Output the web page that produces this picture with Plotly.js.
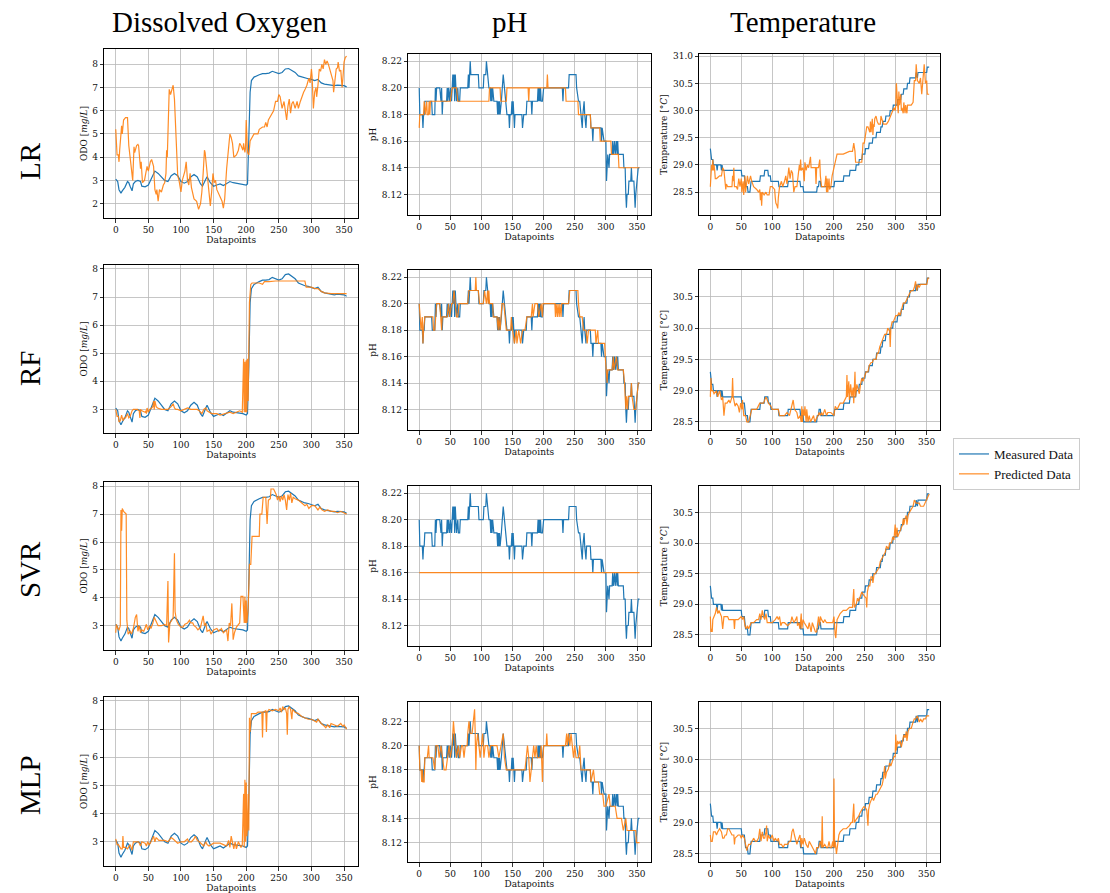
<!DOCTYPE html>
<html><head><meta charset="utf-8">
<script src="https://cdn.plot.ly/plotly-3.0.1.min.js"></script>
<style>html,body{margin:0;padding:0;background:#fff}#chart{width:1110px;height:893px}</style>
</head><body><div id="chart"></div>
<script>
// ---------- DATA (x = datapoint index, y = value) ----------
const models = ["LR", "RF", "SVR", "MLP"];
const variables = ["Dissolved Oxygen", "pH", "Temperature"];
const seriesNames = ["Measured Data", "Predicted Data"];
const xTicks = [0, 50, 100, 150, 200, 250, 300, 350];

const doMeasured = [[0,3.05],[3,2.95],[5,2.6],[8,2.45],[10,2.55],[14,2.7],[18,2.95],[20,2.9],[22,2.75],[25,2.55],[27,2.85],[30,2.95],[34,3.0],[38,2.95],[40,2.75],[45,2.72],[50,2.8],[55,3.1],[60,3.4],[65,3.3],[70,3.15],[75,3.0],[80,2.95],[85,3.2],[90,3.3],[95,3.2],[100,2.95],[105,2.88],[110,2.95],[115,3.15],[120,3.25],[125,3.15],[130,2.85],[133,2.75],[138,3.05],[140,3.15],[145,2.9],[150,2.75],[155,2.8],[160,2.85],[165,2.78],[170,2.85],[175,2.95],[180,2.9],[185,2.88],[195,2.85],[200,2.8],[202,2.85],[204,4.5],[206,6.8],[208,7.3],[212,7.45],[220,7.55],[225,7.6],[230,7.6],[235,7.62],[240,7.7],[245,7.65],[250,7.6],[255,7.65],[260,7.8],[265,7.82],[270,7.75],[275,7.65],[280,7.5],[285,7.45],[290,7.4],[295,7.38],[300,7.35],[305,7.3],[310,7.35],[315,7.2],[320,7.15],[325,7.12],[330,7.1],[335,7.08],[340,7.1],[345,7.1],[350,7.08],[354,7.03]];

const doPredLR = [[0,5.2],[2,4.1],[4,4.1],[5,3.8],[6,4.3],[9,5.35],[10,5.0],[12,5.6],[15,5.7],[18,5.7],[20,4.5],[23,3.6],[25,3.2],[26,3.0],[28,4.45],[29,4.2],[32,4.5],[34,4.55],[35,4.5],[38,3.5],[39,3.8],[41,2.9],[44,3.0],[46,3.3],[48,3.6],[50,3.4],[53,3.8],[55,3.9],[58,3.6],[60,2.6],[62,2.4],[63,2.6],[65,2.1],[67,2.6],[70,2.5],[73,2.8],[75,2.9],[77,3.3],[78,4.3],[79,4.0],[82,6.92],[84,6.7],[87,7.0],[88,7.1],[90,6.5],[92,5.0],[95,3.2],[97,3.0],[100,2.5],[102,3.0],[104,3.2],[106,3.4],[108,3.8],[110,3.0],[112,2.8],[114,3.3],[116,2.7],[118,2.4],[120,2.2],[124,2.1],[127,1.75],[130,2.0],[132,2.5],[134,3.3],[136,4.3],[137,4.2],[139,3.6],[141,2.9],[143,2.3],[145,1.9],[147,2.5],[149,3.3],[151,2.9],[153,3.0],[155,2.6],[158,2.4],[160,2.3],[163,2.1],[165,1.8],[167,2.2],[170,3.5],[173,4.4],[175,5.0],[177,4.85],[179,4.6],[181,4.0],[185,4.1],[188,4.3],[190,4.6],[192,4.5],[195,4.3],[196,4.6],[198,4.2],[199,4.4],[200,5.6],[202,4.2],[204,4.1],[206,4.7],[208,4.8],[212,5.0],[218,5.0],[220,5.2],[225,5.3],[228,5.3],[230,5.5],[232,5.3],[234,5.6],[238,5.8],[242,6.0],[245,6.4],[248,6.4],[250,6.7],[252,6.6],[255,6.1],[258,6.4],[260,6.0],[262,5.6],[264,6.2],[266,6.5],[268,5.9],[270,6.3],[272,6.4],[275,6.1],[278,6.4],[280,6.1],[283,6.4],[285,6.6],[288,6.8],[290,6.9],[293,7.1],[296,7.4],[298,7.2],[300,7.8],[301,7.5],[303,6.1],[305,6.8],[307,7.0],[308,6.6],[310,7.1],[312,7.8],[314,7.7],[316,8.0],[318,7.8],[320,8.2],[322,8.0],[324,8.15],[326,8.0],[328,7.8],[330,7.7],[333,7.3],[334,6.8],[336,7.4],[338,7.8],[340,7.85],[341,8.1],[342,7.9],[343,7.7],[345,7.75],[347,7.0],[348,7.3],[350,8.1],[352,8.3],[354,8.35]];

const doPredRF = [[0,3.0],[2,2.75],[4,2.75],[5,2.55],[7,2.6],[9,2.8],[11,2.6],[13,2.7],[15,2.7],[18,2.85],[20,2.7],[22,2.75],[25,2.95],[27,3.0],[30,3.0],[33,3.0],[36,2.95],[37,2.7],[38,3.0],[40,2.95],[45,2.9],[46,2.95],[47,2.85],[48,3.05],[50,2.9],[52,3.0],[55,3.05],[57,3.1],[58,3.3],[59,3.0],[60,3.3],[62,3.1],[64,3.05],[70,3.0],[80,3.0],[85,3.1],[88,3.2],[90,3.05],[92,3.0],[95,3.0],[100,2.95],[105,3.0],[110,3.05],[115,3.0],[120,3.0],[125,3.0],[128,2.95],[132,2.85],[135,3.0],[138,3.05],[140,2.95],[143,2.9],[147,2.85],[150,2.85],[155,2.85],[160,2.8],[170,2.85],[175,2.9],[180,2.85],[185,2.9],[190,2.95],[194,2.9],[196,4.8],[197,2.9],[198,4.7],[199,2.9],[200,4.75],[201,2.9],[202,4.8],[203,3.3],[204,4.8],[205,6.8],[207,7.45],[209,7.5],[215,7.5],[220,7.5],[225,7.45],[228,7.55],[235,7.55],[245,7.57],[260,7.57],[275,7.57],[290,7.57],[292,7.35],[300,7.35],[305,7.3],[310,7.3],[315,7.2],[320,7.15],[330,7.12],[340,7.12],[350,7.12],[354,7.12]];

const doPredSVR = [[0,2.75],[1,3.05],[3,2.9],[5,2.85],[7,3.0],[8,7.15],[9,6.4],[10,7.2],[12,7.1],[14,7.05],[16,7.0],[17,3.2],[19,2.7],[22,2.8],[24,2.7],[27,2.9],[30,3.3],[32,3.4],[34,2.8],[36,3.0],[38,2.75],[40,2.85],[43,2.8],[47,3.05],[49,2.85],[52,3.0],[54,2.9],[57,3.1],[59,3.3],[62,3.15],[65,3.0],[70,3.0],[75,3.05],[78,3.0],[80,4.6],[81,2.4],[83,3.1],[86,3.2],[88,3.3],[90,5.6],[91,3.5],[93,3.2],[96,3.05],[100,2.95],[103,2.95],[106,3.05],[110,3.1],[113,3.2],[115,3.1],[118,3.1],[120,3.0],[123,2.95],[126,2.85],[128,2.9],[130,2.95],[134,3.35],[136,3.0],[138,3.1],[140,2.8],[144,2.85],[146,2.7],[150,2.85],[155,2.9],[158,2.8],[162,2.9],[165,2.75],[168,2.8],[170,2.85],[172,2.45],[174,3.1],[176,3.0],[178,3.8],[180,2.5],[182,2.75],[185,2.95],[188,3.05],[190,3.1],[192,4.05],[195,4.05],[197,3.1],[198,4.05],[199,3.1],[200,3.9],[201,3.1],[203,3.6],[205,5.2],[207,5.2],[209,6.2],[220,6.2],[221,7.0],[224,7.0],[226,7.6],[230,7.6],[232,6.65],[234,7.5],[237,7.55],[238,7.9],[242,7.9],[244,7.8],[246,7.7],[248,7.5],[250,7.65],[252,7.45],[254,7.65],[256,7.5],[258,7.7],[260,7.5],[262,7.15],[264,7.7],[266,7.5],[268,7.75],[270,7.4],[272,7.6],[275,7.55],[280,7.5],[285,7.4],[290,7.3],[293,7.35],[296,7.2],[300,7.3],[305,7.3],[310,7.15],[313,7.25],[316,7.15],[320,7.1],[325,7.15],[330,7.1],[335,7.1],[340,7.05],[345,7.1],[350,7.05],[354,7.0]];

const doPredMLP = [[0,3.1],[2,2.9],[4,2.9],[6,2.8],[8,2.75],[10,2.75],[11,3.2],[12,2.8],[15,2.8],[18,2.75],[20,2.85],[22,2.9],[25,2.7],[27,3.0],[30,3.0],[35,3.0],[38,2.85],[40,3.0],[45,2.95],[47,2.85],[49,3.0],[51,2.9],[53,2.95],[55,3.05],[58,3.2],[60,3.0],[62,3.15],[64,3.1],[66,3.05],[70,3.05],[75,3.05],[80,3.0],[85,3.15],[88,3.1],[90,3.05],[92,3.0],[95,2.95],[100,3.0],[105,3.0],[110,3.1],[112,3.0],[116,3.0],[120,3.1],[122,3.2],[125,3.05],[128,3.0],[130,2.95],[132,2.9],[135,2.85],[138,3.0],[140,2.9],[143,2.85],[146,2.9],[150,2.95],[155,2.95],[160,2.95],[165,2.9],[170,2.85],[173,3.05],[175,2.8],[177,3.2],[179,2.9],[181,2.75],[183,3.0],[185,2.75],[188,3.0],[190,2.9],[192,2.8],[194,2.9],[196,4.7],[197,2.8],[198,5.2],[199,3.0],[200,5.1],[201,3.2],[202,3.5],[203,4.7],[204,3.4],[205,7.4],[206,6.9],[207,7.2],[208,7.55],[215,7.55],[218,7.6],[224,7.6],[225,6.7],[226,7.6],[230,7.65],[231,6.9],[232,7.6],[235,7.7],[240,7.65],[245,7.7],[250,7.65],[252,7.75],[254,7.6],[256,7.8],[258,7.7],[260,7.75],[262,7.55],[263,6.8],[264,7.7],[266,7.8],[268,7.7],[270,7.35],[271,7.7],[275,7.6],[280,7.55],[285,7.45],[290,7.4],[295,7.35],[300,7.35],[305,7.3],[308,7.25],[310,7.35],[315,7.2],[320,7.1],[322,7.05],[325,7.15],[328,7.05],[330,7.2],[335,7.15],[340,7.1],[345,7.2],[348,7.1],[350,7.15],[354,7.0]];

const phMeasured = [[0,8.20],[1,8.18],[5,8.18],[6,8.17],[7,8.18],[8,8.18],[9,8.19],[20,8.19],[21,8.18],[25,8.18],[26,8.20],[27,8.19],[28,8.20],[33,8.20],[35,8.19],[36,8.20],[37,8.18],[38,8.19],[44,8.19],[45,8.20],[46,8.19],[47,8.20],[49,8.19],[50,8.20],[52,8.19],[54,8.21],[55,8.20],[56,8.21],[57,8.19],[58,8.21],[59,8.20],[60,8.19],[62,8.20],[63,8.19],[65,8.19],[66,8.20],[78,8.20],[79,8.21],[80,8.20],[81,8.21],[82,8.22],[83,8.21],[95,8.21],[96,8.20],[103,8.20],[104,8.21],[107,8.21],[108,8.22],[110,8.21],[112,8.20],[114,8.20],[115,8.19],[116,8.20],[117,8.19],[118,8.20],[120,8.19],[125,8.19],[126,8.18],[127,8.19],[128,8.18],[129,8.19],[130,8.18],[132,8.19],[133,8.20],[135,8.21],[137,8.20],[139,8.19],[141,8.18],[144,8.18],[145,8.17],[146,8.18],[148,8.18],[149,8.19],[150,8.18],[151,8.19],[152,8.18],[153,8.17],[154,8.18],[165,8.18],[166,8.17],[168,8.18],[172,8.18],[173,8.19],[180,8.19],[181,8.18],[182,8.19],[190,8.19],[191,8.20],[192,8.19],[193,8.20],[194,8.19],[195,8.20],[196,8.19],[198,8.19],[200,8.20],[230,8.20],[231,8.19],[232,8.20],[240,8.20],[241,8.21],[252,8.21],[253,8.20],[256,8.19],[258,8.19],[260,8.18],[262,8.17],[263,8.18],[265,8.19],[266,8.18],[268,8.17],[269,8.18],[275,8.18],[276,8.17],[278,8.17],[279,8.16],[280,8.17],[292,8.17],[293,8.16],[294,8.17],[297,8.16],[300,8.16],[301,8.13],[302,8.14],[303,8.15],[305,8.14],[306,8.15],[310,8.15],[311,8.16],[312,8.15],[314,8.16],[315,8.15],[317,8.16],[318,8.15],[319,8.16],[320,8.15],[328,8.15],[329,8.14],[331,8.14],[332,8.12],[333,8.11],[334,8.12],[336,8.12],[337,8.13],[340,8.13],[341,8.14],[342,8.13],[345,8.13],[346,8.12],[347,8.11],[348,8.12],[350,8.13],[352,8.14],[354,8.14]];

const phPredLR = [[0,8.17],[1,8.18],[7,8.18],[8,8.19],[10,8.18],[12,8.19],[13,8.18],[15,8.18],[16,8.19],[17,8.18],[18,8.19],[50,8.19],[53,8.20],[60,8.20],[62,8.19],[112,8.19],[113,8.20],[130,8.20],[131,8.19],[140,8.19],[141,8.20],[175,8.20],[176,8.19],[177,8.20],[205,8.20],[206,8.21],[207,8.20],[235,8.20],[236,8.19],[255,8.19],[256,8.18],[275,8.18],[276,8.17],[290,8.17],[291,8.16],[308,8.16],[309,8.15],[320,8.15],[321,8.14],[354,8.14]];

const phPredRF = [[0,8.20],[1,8.19],[3,8.18],[5,8.19],[6,8.17],[7,8.18],[9,8.19],[22,8.19],[23,8.18],[25,8.18],[26,8.19],[28,8.20],[33,8.20],[34,8.19],[36,8.18],[37,8.19],[45,8.19],[47,8.20],[49,8.19],[52,8.20],[54,8.20],[56,8.21],[58,8.20],[60,8.19],[62,8.19],[64,8.20],[78,8.20],[80,8.21],[90,8.21],[91,8.22],[92,8.21],[95,8.21],[97,8.20],[103,8.20],[105,8.21],[108,8.20],[110,8.21],[111,8.20],[112,8.21],[113,8.20],[118,8.20],[119,8.19],[125,8.19],[127,8.18],[128,8.19],[130,8.18],[133,8.20],[136,8.20],[138,8.19],[140,8.18],[147,8.18],[148,8.19],[150,8.18],[153,8.17],[156,8.18],[157,8.17],[160,8.18],[163,8.17],[166,8.18],[170,8.18],[173,8.19],[180,8.19],[182,8.20],[183,8.19],[186,8.20],[190,8.20],[192,8.19],[196,8.20],[198,8.19],[199,8.20],[218,8.20],[219,8.19],[220,8.20],[222,8.19],[223,8.20],[225,8.19],[226,8.20],[228,8.19],[229,8.20],[240,8.20],[242,8.21],[255,8.21],[256,8.20],[258,8.19],[262,8.19],[264,8.18],[268,8.18],[270,8.17],[272,8.18],[283,8.18],[284,8.17],[287,8.18],[288,8.17],[298,8.17],[299,8.16],[300,8.15],[302,8.14],[303,8.15],[306,8.15],[310,8.15],[312,8.16],[313,8.15],[317,8.16],[319,8.15],[328,8.15],[330,8.14],[332,8.12],[333,8.13],[335,8.12],[336,8.13],[340,8.13],[341,8.14],[342,8.13],[345,8.12],[348,8.12],[350,8.13],[352,8.14],[354,8.14]];

const phPredSVR = [[0,8.16],[354,8.16]];

const phPredMLP = [[0,8.20],[1,8.18],[3,8.18],[4,8.17],[5,8.18],[6,8.17],[8,8.17],[9,8.19],[13,8.19],[15,8.20],[16,8.19],[20,8.19],[22,8.19],[25,8.18],[27,8.20],[30,8.20],[32,8.19],[35,8.20],[37,8.19],[40,8.18],[43,8.18],[45,8.19],[48,8.20],[50,8.19],[53,8.20],[55,8.22],[56,8.21],[58,8.20],[60,8.19],[63,8.20],[65,8.19],[68,8.20],[70,8.20],[72,8.19],[74,8.20],[77,8.20],[78,8.21],[80,8.22],[82,8.21],[85,8.21],[87,8.22],[89,8.23],[90,8.21],[91,8.18],[92,8.20],[94,8.21],[96,8.20],[98,8.19],[100,8.20],[102,8.21],[104,8.19],[106,8.20],[110,8.20],[112,8.19],[115,8.20],[120,8.20],[125,8.20],[128,8.19],[131,8.20],[135,8.21],[137,8.19],[140,8.18],[143,8.18],[150,8.18],[165,8.18],[170,8.18],[172,8.19],[174,8.20],[176,8.19],[178,8.17],[180,8.18],[182,8.19],[184,8.20],[186,8.19],[188,8.20],[190,8.19],[194,8.19],[196,8.20],[198,8.17],[199,8.19],[200,8.20],[204,8.20],[205,8.21],[206,8.20],[235,8.20],[237,8.21],[238,8.20],[240,8.21],[242,8.20],[244,8.21],[246,8.20],[248,8.19],[250,8.20],[252,8.19],[256,8.19],[258,8.20],[260,8.18],[275,8.18],[276,8.17],[280,8.18],[282,8.17],[288,8.17],[290,8.16],[295,8.16],[297,8.15],[300,8.15],[305,8.16],[307,8.15],[315,8.15],[318,8.14],[325,8.14],[328,8.13],[332,8.14],[334,8.13],[348,8.13],[349,8.12],[354,8.12]];

const tempMeasured = [[0,29.3],[1,29.2],[2,29.1],[4,29.1],[5,29.0],[10,29.0],[11,28.9],[12,29.0],[17,29.0],[18,28.9],[19,29.0],[20,28.9],[50,28.9],[51,28.8],[55,28.8],[56,28.7],[57,28.6],[60,28.6],[61,28.5],[64,28.5],[65,28.6],[66,28.7],[80,28.7],[81,28.8],[87,28.8],[88,28.9],[93,28.9],[94,28.8],[97,28.8],[98,28.7],[110,28.7],[111,28.6],[125,28.6],[126,28.7],[145,28.7],[146,28.6],[150,28.6],[151,28.5],[172,28.5],[173,28.6],[175,28.6],[176,28.7],[178,28.7],[179,28.6],[200,28.6],[201,28.7],[215,28.7],[216,28.8],[225,28.8],[226,28.9],[235,28.9],[236,29.0],[240,29.0],[241,29.1],[245,29.1],[246,29.2],[250,29.2],[251,29.3],[256,29.3],[257,29.4],[262,29.4],[263,29.5],[268,29.5],[269,29.6],[275,29.6],[276,29.7],[278,29.7],[279,29.8],[283,29.8],[284,29.9],[290,29.9],[291,30.0],[295,30.0],[296,30.1],[302,30.1],[303,30.2],[308,30.2],[309,30.3],[312,30.3],[313,30.4],[318,30.4],[319,30.5],[322,30.5],[323,30.6],[332,30.6],[333,30.7],[335,30.6],[336,30.7],[350,30.7],[351,30.8],[354,30.8]];

const tempPredLR = [[0,28.6],[1,29.0],[2,29.0],[3,28.9],[4,29.1],[5,28.9],[6,29.0],[7,28.9],[8,28.75],[10,28.75],[15,28.8],[18,28.8],[20,28.95],[22,28.9],[24,28.6],[25,28.55],[26,28.65],[28,28.6],[35,28.6],[36,28.8],[37,28.7],[38,28.95],[39,28.6],[42,28.6],[44,28.55],[46,28.75],[48,28.6],[50,28.75],[51,28.5],[53,28.7],[54,28.45],[55,28.65],[56,28.8],[57,28.5],[58,28.6],[60,28.8],[62,28.65],[65,28.8],[67,28.7],[70,28.6],[75,28.55],[78,28.5],[80,28.55],[81,28.35],[82,28.5],[83,28.25],[84,28.5],[87,28.45],[90,28.5],[92,28.45],[95,28.45],[97,28.6],[100,28.6],[104,28.55],[105,28.4],[106,28.3],[108,28.25],[109,28.2],[110,28.4],[112,28.6],[115,28.7],[117,28.6],[120,28.7],[122,28.8],[124,28.65],[126,28.8],[127,28.95],[129,28.75],[131,28.9],[133,28.85],[135,28.5],[137,28.6],[140,28.6],[142,28.8],[144,29.0],[145,28.9],[146,29.1],[147,28.9],[149,28.95],[150,28.95],[152,28.7],[153,29.05],[155,28.9],[157,29.0],[159,28.95],[162,29.15],[163,28.95],[170,28.95],[171,28.65],[172,28.95],[175,28.95],[177,29.1],[178,28.8],[180,28.6],[185,28.6],[187,28.8],[188,28.5],[189,28.75],[190,28.5],[192,28.75],[193,28.55],[195,28.6],[197,28.8],[200,28.95],[205,29.2],[215,29.2],[225,29.25],[230,29.25],[232,29.4],[234,29.25],[235,29.05],[245,29.05],[247,29.4],[249,29.4],[250,29.5],[253,29.7],[255,29.7],[258,29.6],[259,29.8],[260,29.6],[262,29.85],[263,29.55],[264,29.75],[265,29.7],[266,29.85],[268,29.9],[270,29.8],[272,29.75],[275,29.75],[276,29.9],[280,29.75],[285,29.75],[288,29.8],[290,29.85],[292,29.9],[295,30.0],[297,30.05],[299,30.0],[300,30.1],[301,30.5],[302,30.15],[303,30.1],[304,29.95],[305,30.35],[306,30.1],[308,30.3],[309,30.0],[310,30.05],[312,29.95],[313,30.15],[315,29.95],[316,30.1],[318,29.95],[319,30.1],[325,30.1],[328,30.15],[330,30.55],[332,30.55],[333,30.85],[335,30.55],[338,30.5],[340,30.6],[342,30.3],[344,30.6],[346,30.85],[348,30.5],[350,30.55],[351,30.3],[354,30.3]];

const tempPredRF = [[0,28.9],[1,29.2],[2,29.0],[4,29.0],[6,28.95],[10,29.0],[12,28.9],[15,29.0],[18,28.85],[20,28.9],[22,28.6],[24,28.8],[27,28.8],[30,28.85],[32,28.8],[35,28.9],[36,29.2],[37,28.9],[40,28.75],[42,28.8],[45,28.75],[47,28.65],[49,28.8],[51,28.7],[52,28.85],[54,28.6],[57,28.6],[59,28.5],[62,28.5],[65,28.6],[67,28.7],[75,28.7],[78,28.75],[80,28.8],[86,28.8],[88,28.85],[90,28.9],[92,28.85],[94,28.8],[98,28.75],[100,28.7],[110,28.7],[112,28.6],[120,28.6],[124,28.65],[128,28.6],[130,28.7],[132,28.75],[134,28.85],[136,28.7],[140,28.65],[142,28.55],[145,28.6],[147,28.5],[148,28.75],[149,28.5],[150,28.7],[152,28.6],[153,28.75],[155,28.5],[156,28.7],[158,28.5],[160,28.6],[162,28.5],[165,28.55],[167,28.6],[169,28.5],[172,28.55],[174,28.6],[176,28.65],[178,28.6],[180,28.65],[182,28.6],[185,28.7],[188,28.6],[190,28.65],[195,28.65],[200,28.6],[202,28.75],[205,28.7],[210,28.8],[215,28.8],[218,28.85],[220,28.9],[221,29.25],[222,28.9],[224,29.15],[225,28.85],[227,29.1],[229,28.9],[231,29.05],[232,28.8],[234,29.3],[235,28.9],[237,29.1],[239,29.0],[241,28.95],[243,29.1],[245,29.2],[247,29.15],[250,29.25],[252,29.3],[255,29.3],[257,29.4],[260,29.45],[262,29.45],[264,29.5],[268,29.5],[270,29.6],[272,29.6],[274,29.7],[276,29.75],[278,29.8],[280,29.85],[282,29.9],[285,29.9],[287,30.0],[290,29.95],[291,29.7],[292,30.0],[294,30.1],[296,30.1],[298,30.15],[300,30.2],[303,30.2],[305,30.25],[307,30.2],[309,30.3],[312,30.4],[315,30.4],[318,30.45],[320,30.5],[322,30.55],[325,30.6],[328,30.6],[330,30.65],[332,30.75],[334,30.6],[336,30.7],[338,30.65],[340,30.7],[350,30.7],[352,30.8],[354,30.8]];

const tempPredSVR = [[0,28.8],[1,28.55],[2,28.6],[3,28.55],[4,28.75],[6,28.8],[8,28.85],[10,28.95],[12,28.85],[14,28.9],[16,28.85],[18,28.8],[20,28.6],[22,28.8],[28,28.8],[30,28.75],[38,28.75],[39,28.6],[40,28.75],[45,28.75],[50,28.8],[52,28.75],[54,28.8],[56,28.65],[58,28.6],[60,28.65],[62,28.6],[64,28.65],[66,28.7],[70,28.7],[75,28.75],[78,28.75],[80,28.85],[82,28.75],[84,28.9],[86,28.8],[88,28.75],[90,28.85],[92,28.7],[100,28.7],[105,28.75],[108,28.8],[110,28.75],[112,28.8],[114,28.65],[116,28.7],[120,28.7],[125,28.65],[130,28.7],[132,28.8],[134,28.75],[135,28.7],[138,28.75],[140,28.8],[141,28.65],[143,28.7],[145,28.6],[147,28.85],[148,28.6],[150,28.75],[152,28.7],[155,28.65],[158,28.6],[160,28.7],[163,28.55],[165,28.7],[168,28.6],[170,28.55],[172,28.55],[175,28.8],[177,28.65],[178,28.8],[180,28.75],[183,28.7],[185,28.75],[188,28.7],[198,28.7],[200,28.8],[202,28.5],[203,28.45],[205,28.75],[207,28.8],[210,28.85],[215,28.9],[220,28.9],[225,28.95],[230,28.95],[232,29.25],[233,28.95],[236,29.0],[238,29.1],[240,29.05],[242,29.1],[245,29.2],[248,29.15],[252,29.1],[253,28.95],[254,29.2],[256,29.3],[258,29.3],[260,29.45],[262,29.45],[263,29.35],[265,29.5],[267,29.5],[270,29.55],[273,29.6],[275,29.7],[278,29.75],[280,29.8],[283,29.85],[285,29.95],[288,29.9],[290,30.0],[293,30.0],[295,30.1],[297,30.05],[299,30.3],[300,30.1],[302,30.25],[303,30.1],[305,30.15],[307,30.2],[309,30.25],[311,30.3],[312,30.4],[313,30.3],[315,30.4],[317,30.45],[318,30.3],[320,30.45],[322,30.5],[325,30.55],[328,30.6],[330,30.7],[333,30.65],[338,30.65],[340,30.6],[345,30.6],[347,30.65],[350,30.7],[352,30.75],[354,30.8]];

const tempPredMLP = [[0,28.8],[1,28.7],[3,28.7],[5,28.85],[8,28.85],[10,28.8],[12,28.85],[15,28.9],[18,28.85],[20,28.75],[22,28.75],[24,28.8],[26,28.8],[28,28.9],[30,28.9],[32,28.85],[35,28.8],[38,28.8],[39,28.65],[40,28.75],[45,28.8],[48,28.8],[50,28.75],[52,28.8],[55,28.75],[57,28.65],[59,28.55],[60,28.6],[62,28.65],[65,28.65],[68,28.7],[70,28.75],[73,28.7],[75,28.7],[78,28.75],[80,28.9],[82,28.7],[84,28.85],[86,28.75],[88,28.75],[90,28.85],[91,28.95],[92,28.7],[94,28.8],[96,28.75],[98,28.75],[100,28.8],[103,28.7],[105,28.75],[108,28.7],[110,28.75],[112,28.65],[115,28.65],[118,28.6],[120,28.65],[125,28.65],[128,28.7],[130,28.7],[132,28.85],[134,28.9],[136,28.8],[138,28.7],[140,28.65],[143,28.75],[145,28.8],[147,28.6],[148,28.75],[150,28.65],[152,28.75],[155,28.65],[158,28.6],[160,28.7],[163,28.65],[165,28.6],[168,28.55],[170,28.5],[172,28.6],[175,28.6],[178,28.7],[180,28.6],[181,29.1],[182,28.6],[185,28.65],[188,28.6],[190,28.6],[192,28.7],[194,28.6],[196,28.6],[198,28.7],[199,28.6],[200,29.7],[201,28.6],[202,28.7],[204,28.5],[206,28.7],[208,28.8],[210,28.85],[215,28.9],[220,28.9],[225,28.95],[228,29.0],[230,29.0],[232,29.3],[233,29.0],[236,29.05],[240,29.1],[242,29.15],[245,29.2],[248,29.25],[250,29.25],[253,29.2],[255,28.95],[256,29.2],[258,29.3],[260,29.35],[262,29.4],[264,29.35],[266,29.4],[268,29.45],[270,29.45],[275,29.55],[278,29.6],[280,29.7],[282,29.9],[283,29.7],[285,29.8],[288,29.85],[290,29.95],[292,29.9],[295,30.0],[297,30.05],[299,30.05],[300,30.4],[301,30.15],[303,30.3],[305,30.25],[307,30.3],[309,30.2],[312,30.35],[313,30.4],[315,30.35],[317,30.45],[318,30.3],[320,30.45],[322,30.5],[325,30.5],[328,30.6],[330,30.65],[332,30.65],[335,30.7],[338,30.6],[340,30.65],[343,30.6],[345,30.65],[348,30.65],[350,30.7],[354,30.7]];

const doTicksRow1 = [2, 3, 4, 5, 6, 7, 8];
const doTicks = [3, 4, 5, 6, 7, 8];
const phTicks = [8.12, 8.14, 8.16, 8.18, 8.20, 8.22];
const tempTicksRow1 = [28.5, 29.0, 29.5, 30.0, 30.5, 31.0];
const tempTicks = [28.5, 29.0, 29.5, 30.0, 30.5];

// ---------- PANEL SETUP ----------
const measuredByCol = [doMeasured, phMeasured, tempMeasured];
const predicted = [
  [doPredLR, phPredLR, tempPredLR],
  [doPredRF, phPredRF, tempPredRF],
  [doPredSVR, phPredSVR, tempPredSVR],
  [doPredMLP, phPredMLP, tempPredMLP]
];
const yTitles = ["ODO [<i>mg</i>/<i>L</i>]", "pH", "Temperature [°<i>C</i>]"];
const yTickSets = [
  [doTicksRow1, phTicks, tempTicksRow1],
  [doTicks, phTicks, tempTicks],
  [doTicks, phTicks, tempTicks],
  [doTicks, phTicks, tempTicks]
];
const yFormats = ["d", ".2f", ".1f"];
const yRanges = [
  [[1.38, 8.66], [8.1045, 8.2255], [28.08, 31.04]],
  [[2.16, 8.14], [8.1045, 8.2255], [28.37, 30.93]],
  [[2.13, 8.15], [8.1045, 8.2255], [28.32, 30.93]],
  [[2.14, 8.14], [8.104, 8.236], [28.37, 30.92]]
];

const W = 1110, H = 893;
const colPx = [[104.2, 358.2], [408.2, 650.5], [699.4, 940.1]];
const rowPxDO = [[49, 218], [265, 433], [482, 650], [697, 866]];
const rowPxOther = [[54, 215], [270, 430], [486, 646], [702, 862]];

const BLUE = "#1f77b4", ORANGE = "#ff7f0e";
const tickFont = {family: "DejaVu Serif", size: 9, color: "#111"};

const traces = [];
const layout = {
  width: W, height: H,
  margin: {l: 0, r: 0, t: 0, b: 0},
  paper_bgcolor: "#fff", plot_bgcolor: "#fff",
  showlegend: true,
  legend: {
    x: 953 / W, y: 1 - 438 / H, xanchor: "left", yanchor: "top",
    bgcolor: "#fff", bordercolor: "#cccccc", borderwidth: 1,
    font: {family: "Liberation Serif", size: 13, color: "#111"},
    tracegroupgap: 0, itemwidth: 30
  },
  annotations: [],
  font: {family: "DejaVu Serif", color: "#111"}
};

let idx = 0;
for (let r = 0; r < 4; r++) {
  for (let c = 0; c < 3; c++) {
    idx++;
    const xa = idx === 1 ? "xaxis" : "xaxis" + idx;
    const ya = idx === 1 ? "yaxis" : "yaxis" + idx;
    const xr = idx === 1 ? "x" : "x" + idx;
    const yr = idx === 1 ? "y" : "y" + idx;
    const rp = c === 0 ? rowPxDO[r] : rowPxOther[r];
    layout[xa] = {
      domain: [colPx[c][0] / W, colPx[c][1] / W],
      range: [-17.7, 371.7], anchor: yr,
      tickvals: xTicks, ticks: "outside", ticklen: 3.5, tickwidth: 0.8, tickcolor: "#000",
      tickfont: tickFont, showgrid: true, gridcolor: "#b8b8b8", gridwidth: 0.8,
      zeroline: false, showline: true, mirror: true, linecolor: "#000", linewidth: 1,
      title: {text: "Datapoints", font: {family: "DejaVu Serif", size: 9, color: "#111"}, standoff: 2}
    };
    layout[ya] = {
      domain: [1 - rp[1] / H, 1 - rp[0] / H],
      range: yRanges[r][c], anchor: xr,
      tickvals: yTickSets[r][c], tickformat: yFormats[c],
      ticks: "outside", ticklen: 3.5, tickwidth: 0.8, tickcolor: "#000",
      tickfont: tickFont, showgrid: true, gridcolor: "#b8b8b8", gridwidth: 0.8,
      zeroline: false, showline: true, mirror: true, linecolor: "#000", linewidth: 1,
      title: {text: yTitles[c], font: {family: "DejaVu Serif", size: 9, color: "#111"}, standoff: 3}
    };
    const m = measuredByCol[c];
    const p = predicted[r][c];
    traces.push({
      type: "scatter", mode: "lines", xaxis: xr, yaxis: yr,
      x: m.map(d => d[0]), y: m.map(d => d[1]),
      line: {color: BLUE, width: 1.2},
      name: seriesNames[0], legendgroup: "m", showlegend: idx === 1, hoverinfo: "skip"
    });
    traces.push({
      type: "scatter", mode: "lines", xaxis: xr, yaxis: yr,
      x: p.map(d => d[0]), y: p.map(d => d[1]),
      line: {color: ORANGE, width: 1.2}, opacity: 0.9,
      name: seriesNames[1], legendgroup: "p", showlegend: idx === 1, hoverinfo: "skip"
    });
  }
}

// Column titles
const colTitleX = [220, 510, 803];
variables.forEach((v, i) => {
  layout.annotations.push({
    text: v, xref: "paper", yref: "paper", x: colTitleX[i] / W, y: 1 - 22 / H,
    xanchor: "center", yanchor: "middle", showarrow: false,
    font: {family: "Liberation Serif", size: 29, color: "#000"}
  });
});
// Row labels
const rowLabelY = [161, 369, 570, 785];
models.forEach((m, i) => {
  layout.annotations.push({
    text: m, xref: "paper", yref: "paper", x: 30 / W, y: 1 - rowLabelY[i] / H,
    xanchor: "center", yanchor: "middle", showarrow: false, textangle: -90,
    font: {family: "Liberation Serif", size: 29, color: "#000"}
  });
});

Plotly.newPlot("chart", traces, layout, {staticPlot: true, displayModeBar: false});
</script>
</body></html>
